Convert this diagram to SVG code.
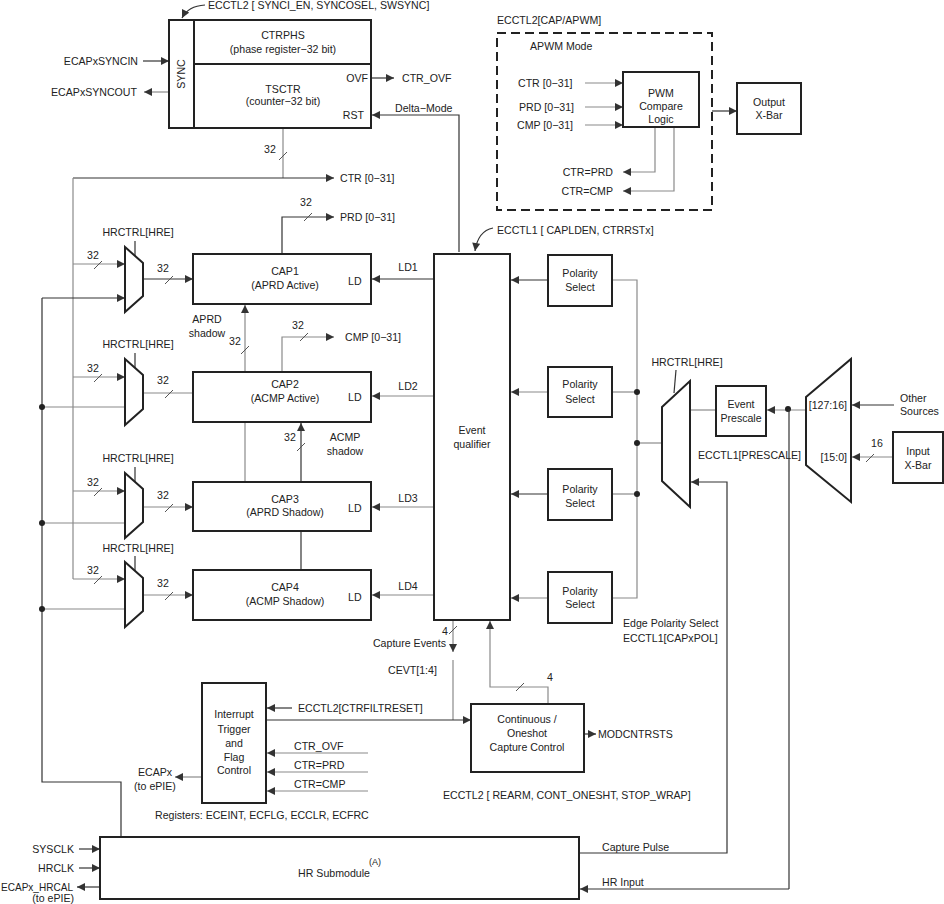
<svg xmlns="http://www.w3.org/2000/svg" width="944" height="904" viewBox="0 0 944 904">
<defs>
<marker id="a" viewBox="0 0 10 10" refX="10" refY="5" markerWidth="9" markerHeight="8" markerUnits="userSpaceOnUse" orient="auto"><path d="M0,0 L10,5 L0,10 z" fill="#333"/></marker>
<style>
.t{font-family:"Liberation Sans",Arial,sans-serif;font-size:10.6px;fill:#222}
.m{text-anchor:middle}
.e{text-anchor:end}
.b{fill:#fff;stroke:#222;stroke-width:2}
.k{stroke:#333;stroke-width:1.2;fill:none}
.g{stroke:#8a8a8a;stroke-width:1.2;fill:none}
.s{stroke:#555;stroke-width:1;fill:none}
.d{fill:#222}
.ar{marker-end:url(#a)}
</style>
</defs>
<rect width="944" height="904" fill="#fff"/>

<g id="connectors">
<path class="k" d="M205,5 Q188,6 182,18" marker-end="url(#a)"/>
<line class="k ar" x1="143" y1="61" x2="169" y2="61"/>
<line class="g ar" x1="169" y1="92" x2="144" y2="92"/>
<line class="k ar" x1="371" y1="78" x2="394" y2="78"/>
<polyline class="k ar" points="459,252 459,115 372,115"/>
<polyline class="s" points="371,110 365,115 371,120"/>
<line class="g" x1="283" y1="128" x2="283" y2="178"/>
<line class="s" x1="279" y1="160" x2="287" y2="152"/>
<line class="k ar" x1="73" y1="178" x2="334" y2="178"/>
<line class="g" x1="73" y1="178" x2="73" y2="579"/>
<line class="g ar" x1="73" y1="264" x2="125" y2="264"/>
<line class="g ar" x1="73" y1="377" x2="125" y2="377"/>
<line class="g ar" x1="73" y1="491" x2="125" y2="491"/>
<line class="g ar" x1="73" y1="579" x2="125" y2="579"/>
<line class="s" x1="94" y1="269" x2="102" y2="261"/>
<line class="s" x1="94" y1="382" x2="102" y2="374"/>
<line class="s" x1="94" y1="496" x2="102" y2="488"/>
<line class="s" x1="94" y1="584" x2="102" y2="576"/>
<polyline class="k" points="121,837 121,782 42,782 42,298"/>
<line class="k ar" x1="42" y1="298" x2="125" y2="298"/>
<line class="g" x1="42" y1="407" x2="125" y2="407"/>
<line class="g" x1="42" y1="523" x2="125" y2="523"/>
<line class="g" x1="42" y1="609" x2="125" y2="609"/>
<circle class="d" cx="42" cy="407" r="3"/>
<circle class="d" cx="42" cy="523" r="3"/>
<circle class="d" cx="42" cy="609" r="3"/>
<line class="k" x1="135" y1="241" x2="135" y2="256"/>
<line class="k" x1="135" y1="353" x2="135" y2="368"/>
<line class="k" x1="135" y1="467" x2="135" y2="482"/>
<line class="k" x1="135" y1="556" x2="135" y2="571"/>
<line class="k ar" x1="143" y1="279" x2="193" y2="279"/>
<line class="g" x1="143" y1="393" x2="193" y2="393"/>
<line class="g ar" x1="143" y1="507" x2="193" y2="507"/>
<line class="g ar" x1="143" y1="595" x2="193" y2="595"/>
<line class="s" x1="165" y1="284" x2="173" y2="276"/>
<line class="s" x1="165" y1="398" x2="173" y2="390"/>
<line class="s" x1="165" y1="512" x2="173" y2="504"/>
<line class="s" x1="165" y1="600" x2="173" y2="592"/>
<polyline class="k ar" points="282,254 282,217 334,217"/>
<line class="s" x1="304" y1="221" x2="312" y2="213"/>
<polyline class="g ar" points="282,372 282,337 334,337"/>
<line class="s" x1="300" y1="341" x2="308" y2="333"/>
<line class="g ar" x1="245" y1="372" x2="245" y2="305"/>
<line class="s" x1="241" y1="354" x2="249" y2="346"/>
<line class="g" x1="245" y1="422" x2="245" y2="482"/>
<line class="k ar" x1="301" y1="482" x2="301" y2="423"/>
<line class="s" x1="297" y1="451" x2="305" y2="443"/>
<line class="k" x1="301" y1="531" x2="301" y2="570"/>
<line class="k ar" x1="434" y1="279" x2="372" y2="279"/>
<line class="g ar" x1="434" y1="396" x2="372" y2="396"/>
<line class="g ar" x1="434" y1="507" x2="372" y2="507"/>
<line class="g ar" x1="434" y1="595" x2="372" y2="595"/>
<polyline class="s" points="371,391 365,396 371,401"/>
<polyline class="s" points="371,502 365,507 371,512"/>
<polyline class="s" points="371,590 365,595 371,600"/>
<path class="k" d="M493,228 Q478,231 475,251" marker-end="url(#a)"/>
<line class="k ar" x1="548" y1="280" x2="511" y2="280"/>
<line class="g ar" x1="548" y1="392" x2="511" y2="392"/>
<line class="k ar" x1="548" y1="494" x2="511" y2="494"/>
<line class="g ar" x1="548" y1="598" x2="511" y2="598"/>
<polyline class="g" points="612,280 637,280 637,598 612,598"/>
<line class="g" x1="612" y1="392" x2="637" y2="392"/>
<line class="g" x1="612" y1="494" x2="637" y2="494"/>
<line class="g" x1="637" y1="443" x2="662" y2="443"/>
<circle class="d" cx="637" cy="392" r="3"/>
<circle class="d" cx="637" cy="443" r="3"/>
<circle class="d" cx="637" cy="494" r="3"/>
<line class="k" x1="676" y1="370" x2="674" y2="393"/>
<line class="g" x1="690" y1="410" x2="716" y2="410"/>
<line class="g ar" x1="806" y1="410" x2="767" y2="410"/>
<circle class="d" cx="788" cy="409" r="3"/>
<line class="k" x1="789" y1="409" x2="789" y2="889"/>
<line class="k ar" x1="789" y1="889" x2="580" y2="889"/>
<polyline class="k ar" points="579,853 727,853 727,482 691,482"/>
<line class="k ar" x1="894" y1="405" x2="852" y2="405"/>
<line class="g ar" x1="893" y1="457" x2="852" y2="457"/>
<line class="s" x1="866" y1="462" x2="874" y2="454"/>
<line class="k ar" x1="712" y1="111" x2="737" y2="111"/>
<line class="g ar" x1="585" y1="83" x2="623" y2="83"/>
<line class="g ar" x1="585" y1="107" x2="623" y2="107"/>
<line class="g ar" x1="585" y1="125" x2="623" y2="125"/>
<polyline class="g ar" points="655,128 655,172 623,172"/>
<polyline class="g ar" points="674,128 674,191 623,191"/>
<line class="g ar" x1="453" y1="620" x2="453" y2="652"/>
<line class="g" x1="453" y1="660" x2="453" y2="720"/>
<line class="s" x1="449" y1="634" x2="457" y2="626"/>
<line class="k ar" x1="266" y1="720" x2="471" y2="720" marker-start="url(#a)"/>
<polyline class="g ar" points="548,704 548,687 490,687 490,621"/>
<line class="s" x1="516" y1="691" x2="524" y2="683"/>
<line class="k ar" x1="584" y1="734" x2="596" y2="734"/>
<line class="k ar" x1="292" y1="708" x2="267" y2="708"/>
<line class="g ar" x1="368" y1="753" x2="267" y2="753"/>
<line class="g ar" x1="368" y1="772" x2="267" y2="772"/>
<line class="g ar" x1="368" y1="791" x2="267" y2="791"/>
<line class="g ar" x1="202" y1="777" x2="175" y2="777"/>
<line class="k ar" x1="79" y1="849" x2="100" y2="849"/>
<line class="k ar" x1="79" y1="868" x2="100" y2="868"/>
<line class="k ar" x1="100" y1="887" x2="77" y2="887"/>
</g>

<g id="sync-block">
<rect class="b" x="169" y="20" width="202" height="108"/>
<line x1="194" y1="20" x2="194" y2="128" stroke="#222" stroke-width="2"/>
<line x1="194" y1="64" x2="371" y2="64" stroke="#222" stroke-width="2"/>
<text class="t m" transform="translate(185,74) rotate(-90)">SYNC</text>
<text class="t m" x="283" y="39">CTRPHS</text>
<text class="t m" x="283" y="53">(phase register−32 bit)</text>
<text class="t m" x="283" y="93">TSCTR</text>
<text class="t m" x="283" y="105">(counter−32 bit)</text>
<text class="t e" x="368" y="82">OVF</text>
<text class="t e" x="364" y="119">RST</text>
</g>

<g id="labels-top">
<text class="t" x="208" y="9">ECCTL2 [ SYNCI_EN, SYNCOSEL, SWSYNC]</text>
<text class="t e" x="138" y="65">ECAPxSYNCIN</text>
<text class="t e" x="137" y="96">ECAPxSYNCOUT</text>
<text class="t" x="402" y="82">CTR_OVF</text>
<text class="t" x="395" y="112">Delta−Mode</text>
<text class="t m" x="270" y="153">32</text>
<text class="t" x="340" y="182">CTR [0−31]</text>
</g>

<g id="apwm">
<rect x="497" y="33" width="215" height="177" fill="none" stroke="#222" stroke-width="2" stroke-dasharray="9,5"/>
<text class="t" x="497" y="24">ECCTL2[CAP/APWM]</text>
<text class="t" x="530" y="50">APWM  Mode</text>
<text class="t" x="518" y="87">CTR [0−31]</text>
<text class="t" x="519" y="111">PRD [0−31]</text>
<text class="t" x="517" y="129">CMP [0−31]</text>
<text class="t e" x="613" y="176">CTR=PRD</text>
<text class="t e" x="613" y="195">CTR=CMP</text>
</g>
<g id="pwm-compare">
<rect class="b" x="623" y="72" width="76" height="55"/>
<text class="t m" x="661" y="97">PWM</text>
<text class="t m" x="661" y="110">Compare</text>
<text class="t m" x="661" y="123">Logic</text>
</g>
<g id="output-xbar">
<rect class="b" x="737" y="83" width="64" height="51"/>
<text class="t m" x="769" y="106">Output</text>
<text class="t m" x="769" y="119">X-Bar</text>
</g>

<g id="muxes">
<polygon class="b" points="125,247 143,263 143,296 125,312"/>
<polygon class="b" points="125,359 143,375 143,409 125,425"/>
<polygon class="b" points="125,473 143,489 143,522 125,538"/>
<polygon class="b" points="125,562 143,578 143,611 125,627"/>
<text class="t m" x="138" y="236">HRCTRL[HRE]</text>
<text class="t m" x="138" y="348">HRCTRL[HRE]</text>
<text class="t m" x="138" y="462">HRCTRL[HRE]</text>
<text class="t m" x="138" y="552">HRCTRL[HRE]</text>
<text class="t m" x="93" y="259">32</text>
<text class="t m" x="93" y="372">32</text>
<text class="t m" x="93" y="486">32</text>
<text class="t m" x="93" y="574">32</text>
<text class="t m" x="163" y="272">32</text>
<text class="t m" x="163" y="384">32</text>
<text class="t m" x="163" y="499">32</text>
<text class="t m" x="163" y="587">32</text>
</g>

<g id="cap1">
<rect class="b" x="193" y="254" width="178" height="50"/>
<text class="t m" x="285" y="275">CAP1</text>
<text class="t m" x="285" y="289">(APRD Active)</text>
<text class="t" x="348" y="285">LD</text>
</g>
<g id="cap2">
<rect class="b" x="193" y="372" width="178" height="50"/>
<text class="t m" x="285" y="388">CAP2</text>
<text class="t m" x="285" y="402">(ACMP Active)</text>
<text class="t" x="348" y="401">LD</text>
</g>
<g id="cap3">
<rect class="b" x="193" y="482" width="178" height="49"/>
<text class="t m" x="285" y="503">CAP3</text>
<text class="t m" x="285" y="516">(APRD Shadow)</text>
<text class="t" x="348" y="512">LD</text>
</g>
<g id="cap4">
<rect class="b" x="193" y="570" width="178" height="50"/>
<text class="t m" x="285" y="591">CAP4</text>
<text class="t m" x="285" y="605">(ACMP Shadow)</text>
<text class="t" x="348" y="601">LD</text>
</g>
<g id="cap-labels">
<text class="t m" x="306" y="206">32</text>
<text class="t" x="340" y="221">PRD [0−31]</text>
<text class="t m" x="298" y="329">32</text>
<text class="t" x="345" y="341">CMP [0−31]</text>
<text class="t m" x="207" y="323">APRD</text>
<text class="t m" x="207" y="337">shadow</text>
<text class="t m" x="235" y="345">32</text>
<text class="t m" x="345" y="441">ACMP</text>
<text class="t m" x="345" y="455">shadow</text>
<text class="t m" x="290" y="441">32</text>
<text class="t m" x="408" y="271">LD1</text>
<text class="t m" x="408" y="390">LD2</text>
<text class="t m" x="408" y="502">LD3</text>
<text class="t m" x="408" y="590">LD4</text>
</g>

<g id="event-qualifier">
<rect class="b" x="434" y="254" width="76" height="366"/>
<text class="t m" x="472" y="434">Event</text>
<text class="t m" x="472" y="448">qualifier</text>
<text class="t" x="497" y="234">ECCTL1 [ CAPLDEN, CTRRSTx]</text>
</g>

<g id="polarity1"><rect class="b" x="548" y="255" width="64" height="51"/><text class="t m" x="580" y="277">Polarity</text><text class="t m" x="580" y="291">Select</text></g>
<g id="polarity2"><rect class="b" x="548" y="367" width="64" height="50"/><text class="t m" x="580" y="388">Polarity</text><text class="t m" x="580" y="403">Select</text></g>
<g id="polarity3"><rect class="b" x="548" y="469" width="64" height="51"/><text class="t m" x="580" y="493">Polarity</text><text class="t m" x="580" y="507">Select</text></g>
<g id="polarity4"><rect class="b" x="548" y="572" width="64" height="51"/><text class="t m" x="580" y="595">Polarity</text><text class="t m" x="580" y="608">Select</text></g>
<text class="t" x="623" y="627">Edge Polarity Select</text>
<text class="t" x="623" y="642">ECCTL1[CAPxPOL]</text>

<g id="hr-mux">
<polygon class="b" points="662,407 690,381 690,507 662,481"/>
<text class="t m" x="687" y="366">HRCTRL[HRE]</text>
</g>
<g id="event-prescale">
<rect class="b" x="716" y="386" width="50" height="50"/>
<text class="t m" x="741" y="408">Event</text>
<text class="t m" x="741" y="422">Prescale</text>
<text class="t" x="698" y="459">ECCTL1[PRESCALE]</text>
</g>
<g id="input-mux">
<polygon class="b" points="806,397 851,359 851,502 806,465"/>
<text class="t e" x="847" y="409">[127:16]</text>
<text class="t e" x="847" y="461">[15:0]</text>
<text class="t" x="900" y="402">Other</text>
<text class="t" x="900" y="415">Sources</text>
<text class="t m" x="877" y="447">16</text>
</g>
<g id="input-xbar">
<rect class="b" x="893" y="432" width="50" height="51"/>
<text class="t m" x="918" y="455">Input</text>
<text class="t m" x="918" y="469">X-Bar</text>
</g>

<g id="bottom-labels">
<text class="t m" x="445" y="635">4</text>
<text class="t e" x="446" y="647">Capture Events</text>
<text class="t" x="388" y="674">CEVT[1:4]</text>
<text class="t m" x="550" y="681">4</text>
<text class="t" x="298" y="712">ECCTL2[CTRFILTRESET]</text>
<text class="t" x="294" y="750">CTR_OVF</text>
<text class="t" x="294" y="769">CTR=PRD</text>
<text class="t" x="294" y="788">CTR=CMP</text>
<text class="t m" x="155" y="776">ECAPx</text>
<text class="t m" x="155" y="790">(to ePIE)</text>
<text class="t" x="155" y="819">Registers:  ECEINT, ECFLG, ECCLR, ECFRC</text>
<text class="t" x="598" y="738">MODCNTRSTS</text>
<text class="t" x="443" y="799">ECCTL2 [ REARM, CONT_ONESHT, STOP_WRAP]</text>
</g>
<g id="interrupt">
<rect class="b" x="202" y="683" width="64" height="120"/>
<text class="t m" x="234" y="718">Interrupt</text>
<text class="t m" x="234" y="733">Trigger</text>
<text class="t m" x="234" y="747">and</text>
<text class="t m" x="234" y="761">Flag</text>
<text class="t m" x="234" y="774">Control</text>
</g>
<g id="continuous">
<rect class="b" x="471" y="704" width="113" height="68"/>
<text class="t m" x="527" y="723">Continuous /</text>
<text class="t m" x="527" y="737">Oneshot</text>
<text class="t m" x="527" y="751">Capture Control</text>
</g>
<g id="hr-submodule">
<rect class="b" x="100" y="837" width="479" height="62"/>
<text class="t m" x="334" y="877">HR Submodule</text>
<text class="t" x="369" y="865" style="font-size:9px">(A)</text>
<text class="t e" x="74" y="853">SYSCLK</text>
<text class="t e" x="74" y="872">HRCLK</text>
<text class="t" x="1" y="891" textLength="72" lengthAdjust="spacingAndGlyphs">ECAPx_HRCAL</text>
<text class="t e" x="74" y="902">(to ePIE)</text>
<text class="t" x="602" y="851">Capture Pulse</text>
<text class="t" x="602" y="886">HR Input</text>
</g>
</svg>
